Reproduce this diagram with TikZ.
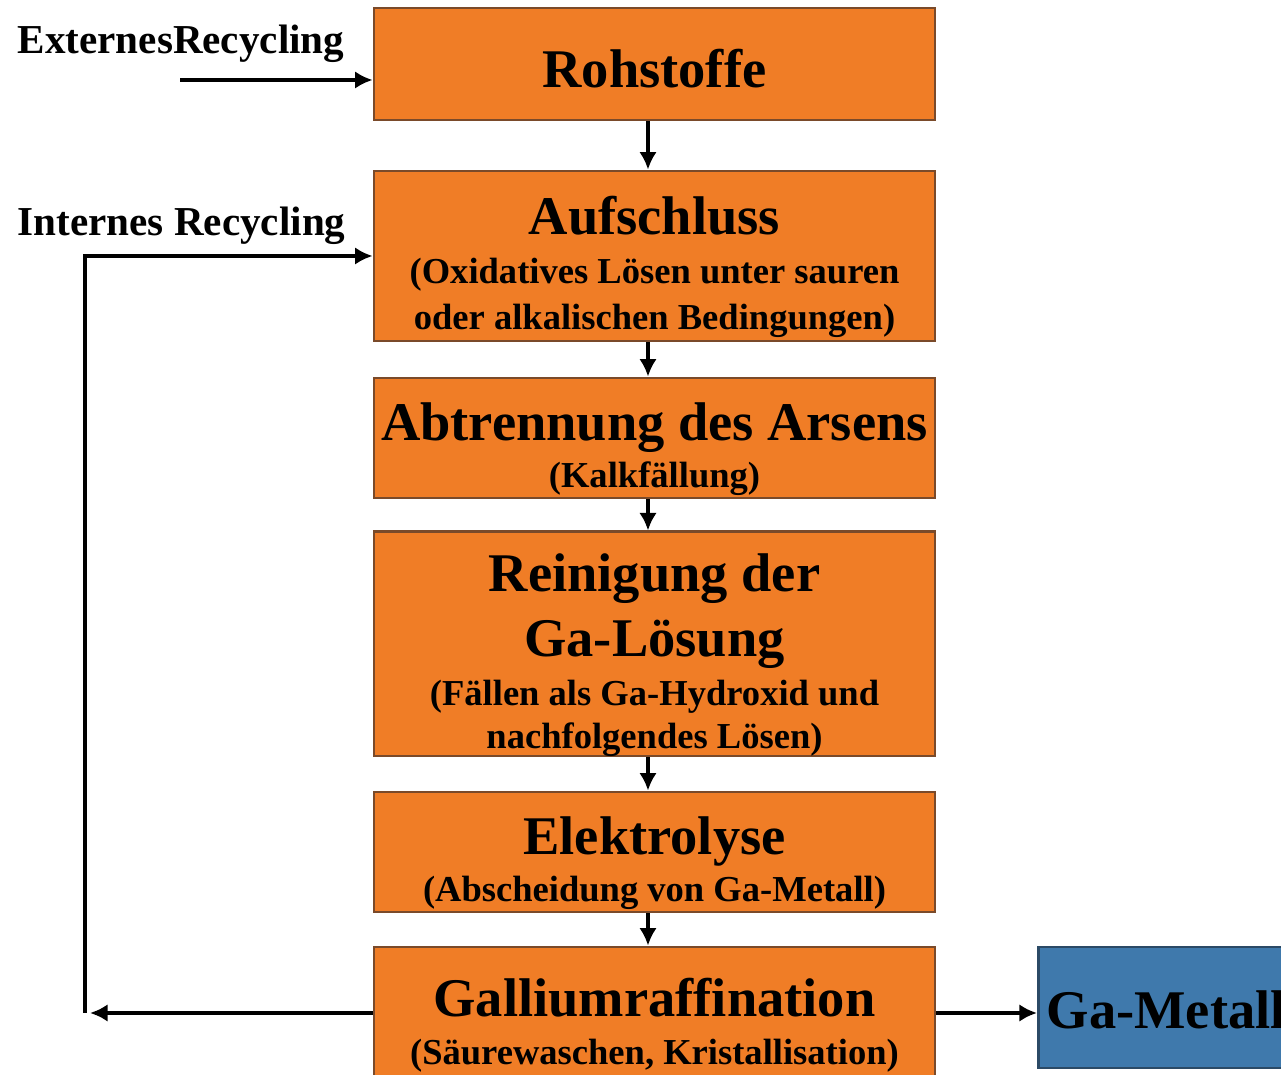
\documentclass[tikz,border=0pt]{standalone}
\usepackage{fontspec}
\setmainfont{Liberation Serif}
\usetikzlibrary{positioning,arrows.meta,calc}
\definecolor{mOrange}{HTML}{F07D26}
\definecolor{mOrangeEdge}{HTML}{7A4A2A}
\definecolor{mBlue}{HTML}{3F79AC}
\definecolor{mBlueEdge}{HTML}{2B4A66}
\newcommand{\ttl}{\fontsize{15.5}{18.5}\selectfont}
\newcommand{\sub}{\fontsize{10.4}{12.5}\selectfont}
\newcommand{\topstrut}[1]{\rule{0pt}{#1}}

\begin{document}
\begin{tikzpicture}[font=\bfseries,
  stepbox/.style={draw=mOrangeEdge, fill=mOrange, line width=0.8pt, minimum width=5.61cm, align=center, inner sep=0pt},
  flow/.style={-{Latex[length=5pt,width=5pt]}, line width=1pt}]
\clip (0,0) rectangle (12.81,-10.75);
% process steps
\node[stepbox, minimum height=1.12cm] (roh) at (6.545,-0.64) {\ttl\topstrut{13.5pt}Rohstoffe};
\node[stepbox, minimum height=1.70cm] (auf) at (6.545,-2.56) {\ttl\topstrut{17pt}Aufschluss\\[2pt]\sub (Oxidatives Lösen unter sauren\\[1pt]\sub oder alkalischen Bedingungen)};
\node[stepbox, minimum height=1.20cm] (abt) at (6.545,-4.38) {\ttl\topstrut{17pt}Abtrennung des Arsens\\[1.3pt]\sub (Kalkfällung)};
\node[stepbox, minimum height=2.22cm] (rei) at (6.545,-6.44) {\ttl\topstrut{17pt}Reinigung der\\[3.7pt]\ttl Ga-Lösung\\[2pt]\sub (Fällen als Ga-Hydroxid und\\\sub nachfolgendes Lösen)};
\node[stepbox, minimum height=1.20cm] (ele) at (6.545,-8.52) {\ttl\topstrut{17pt}Elektrolyse\\[1.5pt]\sub (Abscheidung von Ga-Metall)};
\node[stepbox, minimum height=1.48cm] (gal) at (6.545,-10.21) {\ttl\topstrut{13.5pt}Galliumraffination\\[1.7pt]\sub (Säurewaschen, Kristallisation)};
% product
\node[draw=mBlueEdge, fill=mBlue, line width=0.8pt, minimum width=2.9cm, minimum height=1.21cm, anchor=west, inner sep=0pt] (met) at (10.37,-10.075) {};
\node[anchor=west, inner sep=0pt] (mettxt) at (10.46,-10.10) {\ttl Ga-Metall};
% recycling labels
\node[anchor=west, inner sep=0pt, font=\bfseries\fontsize{11.7}{14}\selectfont] (ext) at (0.17,-0.44) {ExternesRecycling};
\node[anchor=west, inner sep=0pt, font=\bfseries\fontsize{11.7}{14}\selectfont] (int) at (0.17,-2.26) {Internes Recycling};
\coordinate (extin) at (1.80,-0.80);
\coordinate (ret) at (0.90,-10.13);
% main chain
\draw[flow] ($(roh.south)+(-0.065,0)$) -- ($(auf.north)+(-0.065,0)$);
\draw[flow] ($(auf.south)+(-0.065,0)$) -- ($(abt.north)+(-0.065,0)$);
\draw[flow] ($(abt.south)+(-0.065,0)$) -- ($(rei.north)+(-0.065,0)$);
\draw[flow] ($(rei.south)+(-0.065,0)$) -- ($(ele.north)+(-0.065,0)$);
\draw[flow] ($(ele.south)+(-0.065,0)$) -- ($(gal.north)+(-0.065,0)$);
% recycling loops
\draw[flow] (extin) -- (extin -| roh.west);
\draw[flow] (ret -| gal.west) -- (ret);
\draw[flow] ($(ret)+(-0.05,0)$) |- (auf.west);
\draw[flow] (ret -| gal.east) -- (ret -| met.west);
\end{tikzpicture}
\end{document}
